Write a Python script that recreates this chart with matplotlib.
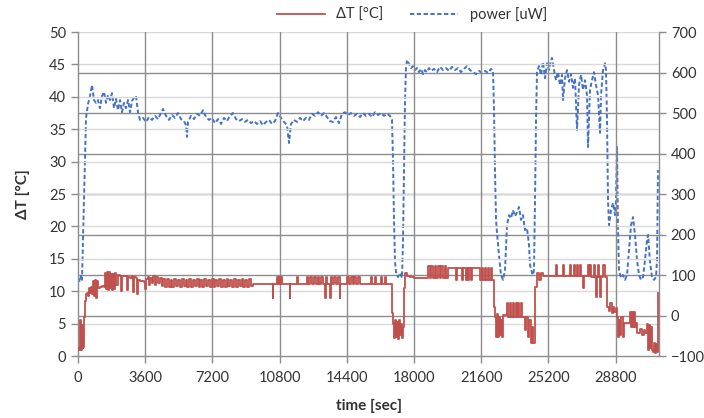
import matplotlib
matplotlib.use("Agg")
import matplotlib.pyplot as plt

plt.rcParams['font.family'] = ['Lato', 'DejaVu Sans']

# ---- Data: power [uW] (right axis) ----
pw_time = [0, 107, 161, 214, 321, 429, 536, 643, 750, 857, 964, 1071, 1179, 1286, 1393, 1500, 1607, 1714,
           1821, 1929, 2036, 2143, 2250, 2357, 2464, 2571, 2679, 2786, 2893, 3000, 3107, 3214, 3321, 3482,
           3643, 3803, 3964, 4125, 4286, 4446, 4553, 4714, 4875, 5036, 5196, 5357, 5518, 5678, 5786, 5839,
           5893, 6053, 6214, 6375, 6536, 6696, 6857, 7018, 7178, 7339, 7500, 7661, 7821, 7982, 8143, 8303,
           8464, 8625, 8785, 8946, 9107, 9268, 9428, 9589, 9750, 9911, 10071, 10232, 10393, 10553, 10714,
           10875, 11036, 11196, 11303, 11411, 11571, 11732, 11893, 12053, 12214, 12375, 12536, 12696, 12857,
           13018, 13178, 13339, 13500, 13660, 13821, 13982, 14143, 14303, 14464, 14625, 14786, 14946, 15107,
           15268, 15428, 15589, 15750, 15911, 16071, 16232, 16393, 16553, 16714, 16821, 16875, 16928, 16982,
           17035, 17143, 17250, 17357, 17411, 17464, 17518, 17571, 17625, 17732, 17839, 17946, 18053, 18160,
           18268, 18375, 18482, 18589, 18696, 18803, 18910, 19071, 19232, 19393, 19553, 19714, 19875, 20036,
           20196, 20357, 20518, 20678, 20839, 21000, 21161, 21321, 21482, 21643, 21803, 21964, 22125, 22232,
           22285, 22339, 22393, 22446, 22553, 22660, 22768, 22875, 22982, 23089, 23196, 23303, 23411, 23518,
           23625, 23732, 23839, 23946, 24053, 24161, 24214, 24321, 24375, 24428, 24482, 24536, 24589, 24696,
           24803, 24911, 25018, 25125, 25232, 25339, 25393, 25500, 25607, 25714, 25821, 25928, 25982, 26089,
           26196, 26303, 26411, 26518, 26625, 26732, 26839, 26946, 27053, 27161, 27268, 27321, 27428, 27536,
           27643, 27750, 27857, 27964, 28018, 28125, 28232, 28286, 28339, 28393, 28446, 28553, 28661, 28768,
           28821, 28875, 28928, 28982, 29089, 29196, 29303, 29411, 29518, 29625, 29732, 29839, 29946, 30053,
           30161, 30268, 30375, 30482, 30536, 30643, 30750, 30857, 30964, 31018, 31071]
pw_vals = [93, 83, 98, 88, 285, 488, 522, 542, 569, 532, 525, 532, 512, 542, 552, 525, 544, 532,
           549, 512, 535, 507, 532, 502, 525, 512, 532, 502, 530, 537, 542, 502, 483, 488,
           478, 490, 483, 493, 485, 500, 510, 493, 483, 495, 488, 500, 485, 480, 470, 441,
           478, 493, 485, 498, 493, 507, 490, 483, 488, 475, 485, 473, 488, 480, 493, 500,
           485, 480, 485, 478, 483, 475, 480, 473, 480, 470, 478, 483, 473, 480, 500,
           488, 478, 470, 426, 473, 483, 478, 488, 480, 488, 483, 498, 493, 502,
           493, 500, 490, 480, 478, 490, 475, 498, 502, 495, 500, 493, 498, 490,
           500, 493, 498, 490, 502, 495, 500, 493, 498, 493, 483, 384, 236, 132,
           107, 95, 105, 93, 186, 359, 532, 611, 631, 621, 611, 616, 606, 611,
           601, 609, 596, 606, 601, 611, 604, 609, 601, 614, 606, 611, 604, 614,
           606, 611, 601, 609, 616, 606, 601, 596, 604, 599, 604, 599, 609, 604,
           507, 359, 236, 204, 149, 100, 88, 112, 223, 248, 240, 260, 245, 255,
           268, 236, 248, 211, 216, 174, 125, 105, 100, 112, 285, 483, 601, 616,
           594, 626, 586, 623, 606, 631, 636, 606, 581, 601, 569, 594, 532, 586,
           606, 577, 596, 562, 586, 458, 569, 594, 557, 581, 544, 416, 557, 581,
           601, 569, 544, 451, 544, 606, 623, 606, 483, 285, 223, 260, 278, 248,
           285, 416, 211, 112, 93, 100, 88, 100, 162, 223, 243, 199, 137, 100,
           88, 95, 137, 186, 199, 132, 95, 88, 95, 137, 359]

# ---- Data: Delta T [degC] (left axis), step samples ----
dt_time = [0, 60, 110, 140, 170, 215, 245, 270, 320, 375, 430, 480, 535, 590, 645, 700, 750, 805, 855,
           910, 965, 1020, 1070, 1180, 1290, 1395, 1445, 1500, 1555, 1605, 1660, 1715, 1770, 1820, 1875,
           1930, 1980, 2035, 2145, 2250, 2300, 2355, 2465, 2570, 2625, 2680, 2785, 2895, 2945, 3000, 3105,
           3160, 3215, 3320, 3430, 3535, 3590, 3645, 3750, 3805, 3855, 3965, 4020, 4125, 4180, 4285, 4395,
           4500, 4555, 4660,
           4760, 4860, 4960, 5060, 5160, 5260, 5360, 5460, 5560, 5660, 5760, 5860, 5960, 6060, 6160, 6260,
           6360, 6460, 6560, 6660, 6760, 6860, 6960, 7060, 7160, 7260, 7360, 7460, 7560, 7660, 7760, 7860,
           7960, 8060, 8160, 8260, 8360, 8460, 8560, 8660, 8760, 8860, 8960, 9060, 9160, 9260, 9360,
           10420, 10470, 10650, 10700, 10760, 10810, 10870, 10920, 11330, 11380, 11710, 11760, 12250, 12300,
           12430, 12530, 12630, 12730, 12830, 12930, 13030, 13130, 13210, 13260, 13360, 13480, 13530, 13630,
           13730, 13830, 13930, 14010, 14060,
           14410, 14510, 14610, 14710, 14810, 14910, 15010, 15110,
           15700, 15750, 15900, 15950, 16250, 16300, 16450, 16500,
           16820, 16880, 16930, 16980, 17030, 17090, 17140, 17190, 17250, 17300, 17350, 17410,
           17460, 17520, 17600, 17800, 18000, 18300, 18600,
           18750, 18840, 18930, 19020, 19110, 19200, 19290, 19380, 19470, 19560, 19650, 19740,
           19830, 20250, 20300, 20570, 20620, 20790, 20840, 20890, 20940, 21050, 21100,
           21540, 21620, 21700, 21780, 21860, 21940, 22020, 22100, 22180,
           22285, 22340, 22400, 22450, 22500, 22560, 22610, 22660, 22720, 22770,
           22980, 23030, 23140, 23190, 23300, 23350, 23460, 23510, 23570, 23620, 23730, 23780,
           23950, 24000, 24100, 24150, 24250, 24300, 24400,
           24480, 24590, 24700, 24800, 24900, 25100, 25600, 25650, 26000, 26050,
           26350, 26400, 26550, 26600, 26710, 26760, 26870, 26920, 27030, 27080, 27300, 27350,
           27450, 27500, 27620, 27670, 27730, 27780, 27840, 27890, 27950, 28000, 28100, 28150, 28250, 28300,
           28340, 28420, 28500, 28580, 28660, 28740, 28820,
           28870, 28930, 28990, 29050, 29110, 29170,
           29250, 29350, 29570, 29620, 29670, 29720, 29770, 29820, 29870,
           29950, 30100, 30200, 30300, 30400,
           30480, 30530, 30580, 30630, 30680, 30730,
           30780, 30840, 30900, 30960, 31020, 31071, 31072]
dt_vals = [1.2, 1.0, 5.5, 1.2, 1.0, 4.8, 1.3, 1.4, 6.0, 8.5, 9.5, 9.7, 9.2, 10.5, 9.8, 10.7, 9.6, 11.5, 9.2,
           11.8, 9.0, 11.6, 10.5, 10.6, 10.8, 10.7, 12.8, 10.3, 13.0, 10.2, 12.9, 10.5, 12.7, 10.2, 12.6,
           10.4, 12.8, 11.0, 12.5, 12.4, 10.0, 12.4, 12.3, 12.3, 10.2, 12.2, 12.0, 12.3, 9.9, 12.2, 12.1,
           9.5, 11.8, 11.6, 11.5, 11.4, 10.4, 11.9, 12.2, 11.0, 12.1, 11.2, 12.3, 11.0, 12.2, 11.3, 12.0,
           10.8, 11.9, 10.7,
           11.9, 10.7, 11.8, 10.7, 11.9, 10.8, 11.8, 10.7, 11.9, 10.8, 11.8, 10.7, 11.9, 10.7, 11.8, 10.8,
           11.9, 10.7, 11.8, 10.7, 11.9, 10.8, 11.8, 10.7, 11.9, 10.7, 11.8, 10.8, 11.9, 10.7, 11.8, 10.7,
           11.9, 10.8, 11.8, 10.7, 11.9, 10.7, 11.8, 10.8, 11.9, 10.7, 11.8, 10.7, 11.9, 10.8, 11.1,
           9.0, 11.1, 12.2, 11.1, 12.2, 11.1, 12.2, 11.1, 9.0, 11.1, 12.2, 11.1, 12.2, 11.1,
           12.2, 11.1, 12.2, 11.1, 12.2, 11.1, 12.2, 11.1, 9.0, 12.2, 11.1, 9.0, 12.2, 11.1,
           12.2, 11.1, 12.2, 9.0, 11.1,
           12.2, 11.1, 12.2, 11.1, 12.2, 11.1, 12.2, 11.1,
           12.2, 11.1, 12.2, 11.1, 12.2, 11.1, 12.2, 11.1,
           6.6, 5.0, 2.8, 5.5, 3.0, 5.2, 2.6, 5.5, 3.2, 5.0, 2.8, 4.5,
           10.5, 12.8, 12.3, 12.2, 12.1, 12.0, 12.0,
           13.9, 12.0, 13.9, 12.0, 13.9, 12.0, 13.9, 12.0, 13.9, 12.0, 13.9, 12.0,
           13.6, 11.7, 13.6, 11.7, 13.6, 11.7, 13.6, 11.7, 13.6, 11.7, 13.6,
           11.7, 13.6, 11.7, 13.6, 11.7, 13.6, 11.7, 13.6, 11.7,
           7.6, 6.0, 3.0, 6.5, 2.9, 6.0, 3.2, 5.5, 3.0, 6.3,
           8.2, 6.0, 8.2, 6.0, 8.2, 6.0, 8.2, 6.0, 8.2, 6.0, 8.2, 6.0,
           4.0, 6.0, 2.9, 5.5, 2.0, 4.5, 2.0,
           10.6, 12.8, 11.7, 12.8, 12.4, 12.4, 14.0, 12.4, 14.0, 12.4,
           14.0, 12.4, 14.0, 12.4, 14.0, 12.4, 14.0, 12.4, 10.5, 12.4, 14.0, 12.4,
           14.0, 12.2, 14.0, 12.2, 9.1, 12.2, 14.0, 12.2, 9.1, 12.2, 12.2, 14.0, 12.2, 12.2,
           7.6, 7.0, 8.2, 6.6, 7.6, 6.8, 7.4,
           6.0, 2.9, 5.5, 3.2, 6.0, 3.0,
           5.1, 5.1, 6.8, 4.5, 6.8, 4.5, 6.8, 4.5, 5.1,
           3.5, 4.2, 3.2, 4.0, 3.5,
           5.0, 1.0, 4.8, 1.2, 4.5, 1.0,
           0.6, 2.0, 0.5, 1.8, 0.6, 9.7, 9.7]

red = '#C0504D'
blue = '#4472C4'

fig = plt.figure(figsize=(7.04, 4.18), dpi=100)
ax = fig.add_axes([0.1108, 0.1483, 0.8253, 0.7751])
ax2 = ax.twinx()

ax.set_xlim(0, 31125)
ax.set_ylim(0, 50)
ax2.set_ylim(-100, 700)

# grids
for v in range(5, 51, 5):
    ax.axhline(v, color='#D9D9D9', lw=1.0, zorder=0)
for v in range(0, 601, 100):
    ax2.axhline(v, color='#8C8C8C', lw=1.0, zorder=0)
for v in range(3600, 31000, 3600):
    ax.axvline(v, color='#8C8C8C', lw=1.0, zorder=0)

ax.set_zorder(ax2.get_zorder() + 1)
ax.patch.set_visible(False)

l1, = ax.plot(dt_time, dt_vals, color=red, lw=1.3, drawstyle='steps-post', zorder=3)
l2, = ax2.plot(pw_time, pw_vals, color=blue, lw=1.4, ls=(0, (2.2, 1.3)), zorder=2)

ax.set_xticks(range(0, 31000, 3600))
ax.set_yticks(range(0, 51, 5))
ax2.set_yticks(range(-100, 701, 100))

for a in (ax, ax2):
    for s in a.spines.values():
        s.set_visible(False)
ax.spines['left'].set_visible(True)
ax.spines['bottom'].set_visible(True)
ax2.spines['right'].set_visible(True)
for s in (ax.spines['left'], ax.spines['bottom'], ax2.spines['right']):
    s.set_color('#8C8C8C')
    s.set_linewidth(1.0)

ax.tick_params(axis='both', colors='#8C8C8C', labelcolor='#333333', labelsize=10.5, length=5, width=1, direction='out')
ax2.tick_params(axis='y', colors='#8C8C8C', labelcolor='#333333', labelsize=10.5, length=5, width=1, direction='out')
ax.tick_params(axis='x', pad=6)

ax.set_ylabel('ΔT [°C]', fontsize=11, fontweight='bold', color='#333333', labelpad=14)
ax.set_xlabel('time [sec]', fontsize=11, fontweight='bold', color='#333333', labelpad=10)

fig.legend([l1, l2], ['ΔT [°C]', 'power [uW]'], loc='center', bbox_to_anchor=(0.585, 0.965),
           ncol=2, frameon=False, fontsize=10.5, handlelength=3.3, columnspacing=1.8,
           labelcolor='#333333')

fig.savefig('out.png', dpi=100)
